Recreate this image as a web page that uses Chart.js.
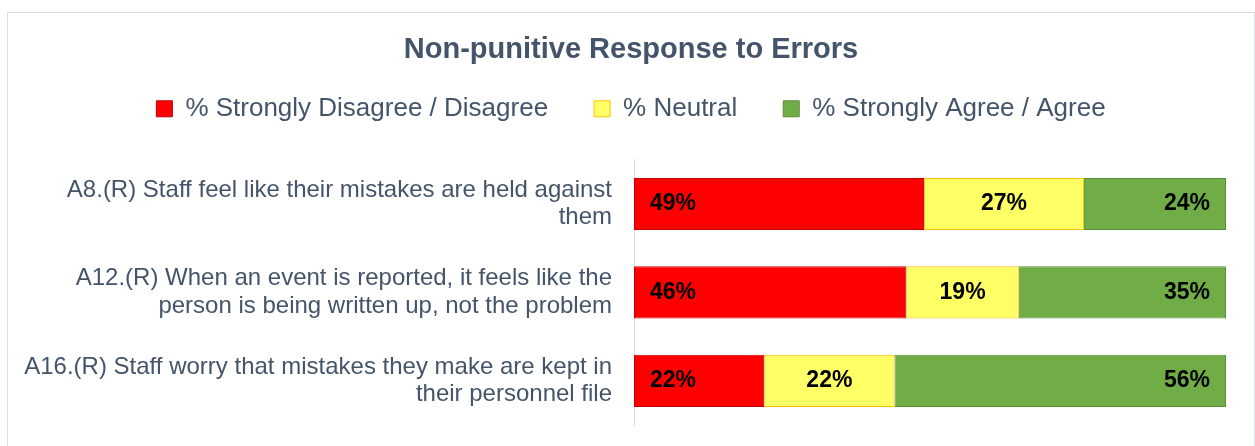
<!DOCTYPE html>
<html>
<head>
<meta charset="utf-8">
<script src="https://cdn.jsdelivr.net/npm/chart.js@4.4.1/dist/chart.umd.min.js"></script>
<style>
  html, body { margin: 0; padding: 0; background: #fff; }
  #frame { position: absolute; left: 7px; top: 12px; width: 1246px; height: 440px; border: 1px solid #D9DEE4; border-bottom: none; }
  #wrap { position: relative; width: 1246px; height: 434px; }
</style>
</head>
<body>
<div id="frame"><div id="wrap"><canvas id="chart"></canvas></div></div>
<script>
const categories = [
  ["A8.(R) Staff feel like their mistakes are held against", "them"],
  ["A12.(R) When an event is reported, it feels like the", "person is being written up, not the problem"],
  ["A16.(R) Staff worry that mistakes they make are kept in", "their personnel file"]
];
const seriesNames = ["% Strongly Disagree / Disagree", "% Neutral", "% Strongly Agree / Agree"];
const disagree = [49, 46, 22];
const neutral = [27, 19, 22];
const agree = [24, 35, 56];

const FONT = '"Liberation Sans", Arial, sans-serif';
const TEXT = '#44546A';

// percentage labels inside the bars
const barLabels = {
  id: 'barLabels',
  afterDatasetsDraw(chart) {
    const ctx = chart.ctx;
    ctx.save();
    ctx.font = 'bold 23px ' + FONT;
    ctx.fillStyle = '#000';
    ctx.textBaseline = 'middle';
    chart.data.datasets.forEach((ds, i) => {
      chart.getDatasetMeta(i).data.forEach((bar, j) => {
        const text = ds.data[j] + '%';
        const left = Math.min(bar.x, bar.base);
        const right = Math.max(bar.x, bar.base);
        if (i === 0) {
          ctx.textAlign = 'left';
          ctx.fillText(text, left + 16, bar.y);
        } else if (i === 1) {
          ctx.textAlign = 'center';
          ctx.fillText(text, (left + right) / 2, bar.y);
        } else {
          ctx.textAlign = 'right';
          ctx.fillText(text, right - 16, bar.y);
        }
      });
    });
    ctx.restore();
  }
};

// extra room under the legend
const legendGap = {
  id: 'legendGap',
  beforeInit(chart) {
    const fit = chart.legend.fit;
    chart.legend.fit = function () {
      fit.call(this);
      this.height += 28;
    };
  }
};

const ctx = document.getElementById('chart').getContext('2d');
new Chart(ctx, {
  type: 'bar',
  data: {
    labels: categories,
    datasets: [
      { label: seriesNames[0], data: disagree, backgroundColor: '#FF0000', borderColor: '#C00000' },
      { label: seriesNames[1], data: neutral, backgroundColor: '#FFFF66', borderColor: '#FFC000' },
      { label: seriesNames[2], data: agree, backgroundColor: '#70AD47', borderColor: '#5B8E3A' }
    ]
  },
  options: {
    indexAxis: 'y',
    responsive: true,
    maintainAspectRatio: false,
    animation: false,
    datasets: {
      bar: { barPercentage: 0.59, categoryPercentage: 1, borderWidth: 1, borderSkipped: false }
    },
    layout: { padding: { top: 0, left: 0, right: 0, bottom: 22 } },
    scales: {
      x: { stacked: true, min: 0, max: 100, display: false },
      y: {
        stacked: true,
        grid: { display: false, drawTicks: false },
        border: { display: true, color: '#D9DEE4', width: 1 },
        ticks: { color: TEXT, padding: 22, font: { family: FONT, size: 24, lineHeight: 1.15 } },
        afterFit(scale) {
          scale.width = 626;
          scale.paddingTop = 0;
          scale.paddingBottom = 0;
        }
      },
      // empty strip on the right of the bars
      yRight: {
        type: 'linear',
        position: 'right',
        display: true,
        grid: { display: false, drawTicks: false },
        border: { display: false },
        ticks: { display: false },
        afterFit(scale) { scale.width = 28; }
      }
    },
    plugins: {
      title: {
        display: true,
        text: 'Non-punitive Response to Errors',
        color: TEXT,
        font: { family: FONT, size: 29, weight: 'bold' },
        padding: { top: 20, bottom: -18 }
      },
      legend: {
        position: 'top',
        labels: { boxWidth: 16, boxHeight: 16, color: TEXT, padding: 46, font: { family: FONT, size: 26 } }
      },
      tooltip: { enabled: false }
    }
  },
  plugins: [barLabels, legendGap]
});
</script>
</body>
</html>
